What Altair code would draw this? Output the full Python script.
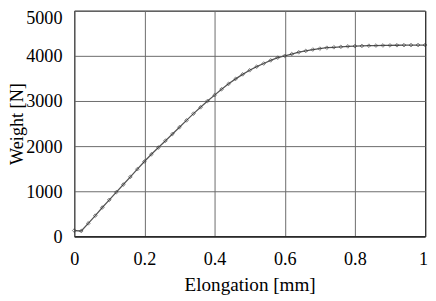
import altair as alt
import pandas as pd

elongation = [0.00, 0.02, 0.04, 0.06, 0.08, 0.10, 0.12, 0.14, 0.16, 0.18,
              0.20, 0.22, 0.24, 0.26, 0.28, 0.30, 0.32, 0.34, 0.36, 0.38,
              0.40, 0.42, 0.44, 0.46, 0.48, 0.50, 0.52, 0.54, 0.56, 0.58,
              0.60, 0.62, 0.64, 0.66, 0.68, 0.70, 0.72, 0.74, 0.76, 0.78,
              0.80, 0.82, 0.84, 0.86, 0.88, 0.90, 0.92, 0.94, 0.96, 0.98, 1.00]
weight = [130, 120, 290, 460, 640, 810, 980, 1150, 1320, 1490,
          1660, 1820, 1970, 2120, 2270, 2420, 2570, 2720, 2860, 3000,
          3130, 3260, 3380, 3490, 3590, 3680, 3760, 3830, 3900, 3960,
          4000, 4040, 4080, 4110, 4140, 4160, 4180, 4190, 4200, 4210,
          4215, 4220, 4225, 4228, 4230, 4232, 4235, 4237, 4238, 4240, 4240]

x_ticks = [0, 0.2, 0.4, 0.6, 0.8, 1.0]
y_ticks = [0, 1000, 2000, 3000, 4000, 5000]

df = pd.DataFrame({"e": elongation, "w": weight})

FONT = "Liberation Serif, Times New Roman, Times, serif"

x_enc = alt.X("e:Q", scale=alt.Scale(domain=[0, 1], nice=False),
              axis=alt.Axis(values=x_ticks, format="~g", title="Elongation [mm]",
                            labelFont=FONT, labelFontSize=18.5, labelColor="black",
                            labelBaseline="alphabetic", labelPadding=29,
                            labelFlush=False,
                            labelOffset={"condition": {"test": "datum.value == 1", "value": -2}, "value": 0},
                            titleFont=FONT, titleFontSize=19.5, titleFontWeight="normal",
                            titleColor="black", titleBaseline="alphabetic", titleY=55,
                            ticks=False, domainColor="black", domainWidth=1,
                            gridColor="#6a6a6a", gridWidth=1))
y_enc = alt.Y("w:Q", scale=alt.Scale(domain=[0, 5000], nice=False),
              axis=alt.Axis(values=y_ticks, format="d", title="Weight [N]",
                            labelFont=FONT, labelFontSize=18.5, labelColor="black",
                            labelPadding=12.5, labelFlush=False,
                            labelOffset={"condition": {"test": "datum.value == 5000", "value": 7}, "value": 0},
                            titleFont=FONT, titleFontSize=18.5, titleFontWeight="normal",
                            titleColor="black", titleAngle=-90, titleAlign="center",
                            titleBaseline="alphabetic", titleX=-52.5, titleY=115,
                            ticks=False, domainColor="#555555", domainWidth=1,
                            gridColor="#6a6a6a", gridWidth=1))

line = alt.Chart(df).mark_line(color="#555555", strokeWidth=1.3).encode(x=x_enc, y=y_enc)
pts = alt.Chart(df).mark_point(shape="diamond", size=14, filled=False,
                               color="#222222", strokeWidth=0.8).encode(x="e:Q", y="w:Q")

chart = (line + pts).properties(
    width=357.5, height=230,
    autosize=alt.AutoSizeParams(type="none"),
    padding={"left": 67.5, "top": 0, "right": 3, "bottom": 60},
    background="white",
).configure(font=FONT).configure_view(stroke="black", strokeWidth=1)

chart.save("out.html", embed_options={"renderer": "svg", "actions": False})
